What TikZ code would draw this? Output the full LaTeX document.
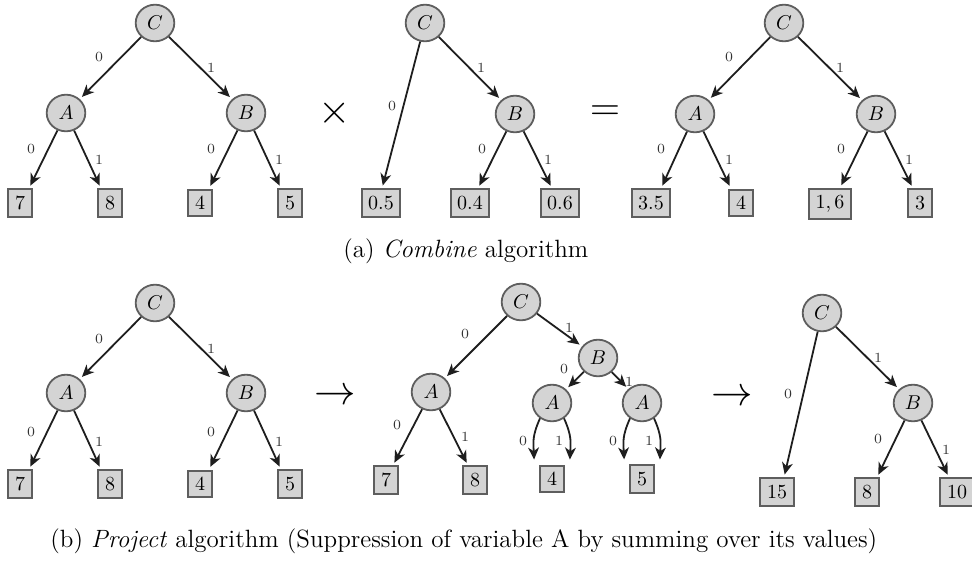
\documentclass[tikz,border=0pt]{standalone}
\usetikzlibrary{shapes.geometric,arrows.meta}
\definecolor{vfill}{HTML}{D4D4D4}
\definecolor{vline}{HTML}{5E5E5E}
\definecolor{edgec}{HTML}{1E1E1E}
\definecolor{labc}{HTML}{333333}
\begin{document}
\begin{tikzpicture}[x=0.5pt,y=-0.5pt,
  var/.style={ellipse, draw=vline, fill=vfill, line width=0.9pt, minimum width=19.3pt, minimum height=18.3pt, inner sep=0pt},
  leaf/.style={rectangle, draw=vline, fill=vfill, line width=1pt, inner sep=0.3333em},
  arr/.style={draw=edgec, line width=0.9pt, -{Stealth[length=6pt,width=5.4pt,inset=1.8pt]}, shorten >=1.5pt},
  lbl/.style={font=\scriptsize, inner sep=0pt, text=labc},
  op/.style={font=\huge, inner sep=0pt},
  captext/.style={anchor=base west, inner sep=0pt, font=\fontsize{12.5}{15}\selectfont}]
\useasboundingbox (0,0) rectangle (972,561);
% ---------- tree 1 (top left)
\node[var] (c1) at (155,23) {$C$};
\node[var] (a1) at (66,113) {$A$};
\node[var] (b1) at (246,113) {$B$};
\node[leaf] (l1a) at (20,203) {7};
\node[leaf] (l1b) at (110,203) {8};
\node[leaf] (l1c) at (200,203) {4};
\node[leaf] (l1d) at (290,203) {5};
\draw[arr] (c1) -- (a1);
\draw[arr] (c1) -- (b1);
\draw[arr] (a1) -- ([xshift=4.5pt]l1a.north);
\draw[arr] (a1) -- ([xshift=-4.5pt]l1b.north);
\draw[arr] (b1) -- ([xshift=4.5pt]l1c.north);
\draw[arr] (b1) -- ([xshift=-4.5pt]l1d.north);
\node[lbl] (e1a) at (99,57) {0};
\node[lbl] (e1b) at (211,68) {1};
\node[lbl] (e1c) at (31,149) {0};
\node[lbl] (e1d) at (99,160) {1};
\node[lbl] (e1e) at (211,149) {0};
\node[lbl] (e1f) at (279,160) {1};
% ---------- operator
\node[op] (times) at (335,113) {$\times$};
% ---------- tree 2 (top middle)
\node[var] (c2) at (425,23) {$C$};
\node[var] (b2) at (515,114) {$B$};
\node[leaf] (l2a) at (381,203) {0.5};
\node[leaf] (l2b) at (470,203) {0.4};
\node[leaf] (l2c) at (560,203) {0.6};
\draw[arr] (c2) -- ([xshift=0.5pt]l2a.north);
\draw[arr] (c2) -- (b2);
\draw[arr] (b2) -- ([xshift=4pt]l2b.north);
\draw[arr] (b2) -- ([xshift=-4pt]l2c.north);
\node[lbl] (e2a) at (392,106) {0};
\node[lbl] (e2b) at (481,68) {1};
\node[lbl] (e2c) at (482,149) {0};
\node[lbl] (e2d) at (548,160) {1};
% ---------- operator
\node[op] (equals) at (605,113) {$=$};
% ---------- tree 3 (top right)
\node[var] (c3) at (784,23) {$C$};
\node[var] (a3) at (695,114) {$A$};
\node[var] (b3) at (876,114) {$B$};
\node[leaf] (l3a) at (651,203) {3.5};
\node[leaf] (l3b) at (741,203) {4};
\node[leaf] (l3c) at (830,204) {$1,6$};
\node[leaf] (l3d) at (920,203) {3};
\draw[arr] (c3) -- (a3);
\draw[arr] (c3) -- (b3);
\draw[arr] (a3) -- ([xshift=5pt]l3a.north);
\draw[arr] (a3) -- ([xshift=-5pt]l3b.north);
\draw[arr] (b3) -- ([xshift=5pt]l3c.north);
\draw[arr] (b3) -- ([xshift=-3.5pt]l3d.north);
\node[lbl] (e3a) at (729,57) {0};
\node[lbl] (e3b) at (840,68) {1};
\node[lbl] (e3c) at (661,149) {0};
\node[lbl] (e3d) at (729,160) {1};
\node[lbl] (e3e) at (841,149) {0};
\node[lbl] (e3f) at (909,160) {1};
% ---------- caption a
\node[captext] (capa) at (343,257) {(a) \emph{Combine} algorithm};
% ---------- tree 4 (bottom left)
\node[var] (c4) at (155,303) {$C$};
\node[var] (a4) at (66,393) {$A$};
\node[var] (b4) at (246,393) {$B$};
\node[leaf] (l4a) at (20,484) {7};
\node[leaf] (l4b) at (110,484) {8};
\node[leaf] (l4c) at (200,484) {4};
\node[leaf] (l4d) at (290,484) {5};
\draw[arr] (c4) -- (a4);
\draw[arr] (c4) -- (b4);
\draw[arr] (a4) -- ([xshift=4.5pt]l4a.north);
\draw[arr] (a4) -- ([xshift=-4.5pt]l4b.north);
\draw[arr] (b4) -- ([xshift=4.5pt]l4c.north);
\draw[arr] (b4) -- ([xshift=-4.5pt]l4d.north);
\node[lbl] (e4a) at (99,339) {0};
\node[lbl] (e4b) at (211,349) {1};
\node[lbl] (e4c) at (31,432) {0};
\node[lbl] (e4d) at (99,442) {1};
\node[lbl] (e4e) at (211,432) {0};
\node[lbl] (e4f) at (279,442) {1};
% ---------- arrow
\node[op] (to1) at (335,397) {$\rightarrow$};
% ---------- tree 5 (bottom middle)
\node[var] (c5) at (521,302) {$C$};
\node[var] (b5) at (598,358) {$B$};
\node[var] (a5) at (431,392) {$A$};
\node[var] (a5b) at (552,403) {$A$};
\node[var] (a5c) at (642,403) {$A$};
\node[leaf] (l5a) at (386,480) {7};
\node[leaf] (l5b) at (475,480) {8};
\node[leaf] (l5c) at (552,479) {4};
\node[leaf] (l5d) at (642,479) {5};
\draw[arr] (c5) -- (a5);
\draw[arr] (c5) -- (b5);
\draw[arr] (b5) -- (a5b);
\draw[arr] (b5) -- (a5c);
\draw[arr] (a5) -- ([xshift=3.5pt]l5a.north);
\draw[arr] (a5) -- ([xshift=-3.5pt]l5b.north);
\draw[arr, shorten >=2.5pt] (a5b.232) .. controls +(-8,18) and +(-1,-22) .. ([xshift=-2.5pt]l5c.north west);
\draw[arr, shorten >=2.5pt] (a5b.308) .. controls +(8,18) and +(1,-22) .. ([xshift=2.5pt]l5c.north east);
\draw[arr, shorten >=2.5pt] (a5c.232) .. controls +(-8,18) and +(-1,-22) .. ([xshift=-2.5pt]l5d.north west);
\draw[arr, shorten >=2.5pt] (a5c.308) .. controls +(8,18) and +(1,-22) .. ([xshift=2.5pt]l5d.north east);
\node[lbl] (e5a) at (465,334) {0};
\node[lbl] (e5b) at (569,328) {1};
\node[lbl] (e5c) at (564,369) {0};
\node[lbl] (e5d) at (629,382) {1};
\node[lbl] (e5e) at (397,425) {0};
\node[lbl] (e5f) at (465,437) {1};
\node[lbl] (e5g) at (523,441) {0};
\node[lbl] (e5h) at (559,441) {1};
\node[lbl] (e5i) at (613,441) {0};
\node[lbl] (e5j) at (649,441) {1};
% ---------- arrow
\node[op] (to2) at (732,398) {$\rightarrow$};
% ---------- tree 6 (bottom right)
\node[var] (c6) at (822,313) {$C$};
\node[var] (b6) at (913,403) {$B$};
\node[leaf] (l6a) at (777,492) {15};
\node[leaf] (l6b) at (867,492) {8};
\node[leaf] (l6c) at (957,492) {10};
\draw[arr] (c6) -- ([xshift=3.5pt]l6a.north);
\draw[arr] (c6) -- (b6);
\draw[arr] (b6) -- ([xshift=5pt]l6b.north);
\draw[arr] (b6) -- ([xshift=-4pt]l6c.north);
\node[lbl] (e6a) at (788,394) {0};
\node[lbl] (e6b) at (878,358) {1};
\node[lbl] (e6c) at (878,439) {0};
\node[lbl] (e6d) at (946,450) {1};
% ---------- caption b
\node[captext] (capb) at (50,547) {(b) \emph{Project} algorithm (Suppression of variable A by summing over its values)};
\end{tikzpicture}
\end{document}
